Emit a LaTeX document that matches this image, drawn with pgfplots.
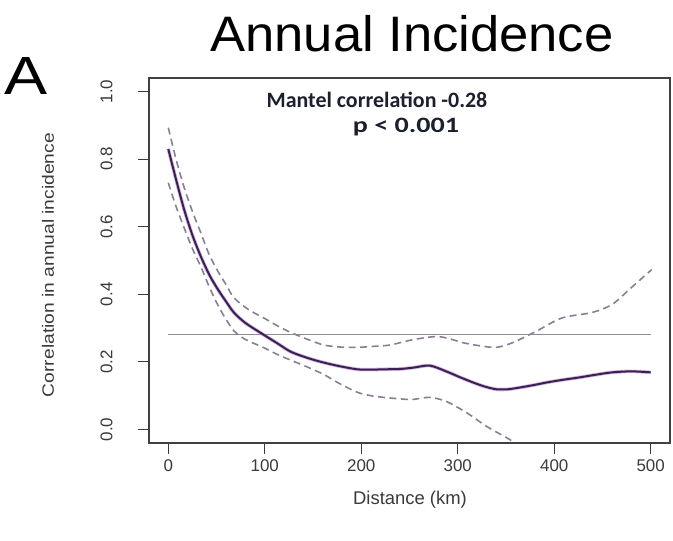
\documentclass[border=0pt]{standalone}
\usepackage{pgfplots}
\pgfplotsset{compat=1.18}
\usepackage{fontspec}
\setmainfont{Liberation Sans}
\newfontfamily\calibri{Carlito}

\definecolor{meanline}{HTML}{3E1F55}
\definecolor{meanhalo}{HTML}{B08CCB}
\definecolor{envline}{HTML}{8A7E94}
\definecolor{refline}{HTML}{8C8C8C}
\definecolor{ticktext}{HTML}{3A3A3A}
\definecolor{notetext}{HTML}{1C1F2E}

% correlogram: smoothed correlation and its envelope
\pgfplotstableread{
x y
0 0.83
8 0.74
16.5 0.65
25 0.575
34 0.51
43 0.455
51.5 0.414
60 0.378
68 0.346
80 0.315
99 0.28
113 0.255
127 0.23
144 0.212
161 0.198
178 0.187
196 0.178
210 0.177
223 0.178
240 0.179
254 0.183
271 0.189
288 0.172
302 0.155
316 0.139
328 0.127
340 0.119
352 0.119
364 0.124
378 0.131
392 0.139
409 0.147
426 0.154
443 0.162
460 0.169
480 0.172
500 0.169
}\meancurve

\pgfplotstableread{
x y
0 0.893
8 0.80
16 0.72
25 0.645
34 0.58
42 0.52
51 0.47
60 0.428
68 0.39
83 0.355
99 0.33
113 0.307
127 0.287
144 0.267
161 0.25
178 0.244
196 0.243
213 0.246
230 0.25
254 0.266
278 0.275
292 0.268
305 0.257
322 0.248
340 0.243
357 0.257
381 0.29
408 0.33
439 0.346
460 0.37
480 0.42
501 0.473
}\uppercurve

\pgfplotstableread{
x y
0 0.73
8 0.66
16 0.60
25 0.535
34 0.48
42 0.425
51 0.37
60 0.325
68 0.292
75 0.275
83 0.262
99 0.242
113 0.222
127 0.205
144 0.185
161 0.163
178 0.135
196 0.11
210 0.10
223 0.095
247 0.089
254 0.089
271 0.095
288 0.083
309 0.05
330 0.009
354 -0.03
360 -0.045
}\lowercurve

\begin{document}
\begin{tikzpicture}
\path[use as bounding box] (0bp,0bp) rectangle (673bp,541bp);
\begin{axis}[
  at={(149bp,98bp)}, anchor=south west,
  scale only axis, width=521bp, height=365bp,
  xmin=-20, xmax=520, ymin=-0.04, ymax=1.04,
  xtick={0,100,...,500}, ytick={0,0.2,...,1.0},
  xtick pos=left, ytick pos=left,
  tick align=outside, major tick length=11bp,
  tick style={ticktext, line width=1bp},
  axis line style={black!75, line width=1.3bp},
  /pgf/number format/assume math mode=true,
  ticklabel style={font=\fontsize{17}{17}\selectfont, text=ticktext},
  yticklabel style={rotate=90, anchor=south, yshift=22bp, /pgf/number format/.cd, fixed, fixed zerofill, precision=1},
  xticklabel style={yshift=-2bp, /pgf/number format/.cd, fixed, precision=0},
  clip=true,
]
\addplot[refline, line width=1bp] coordinates {(0,0.28) (500,0.28)};
\addplot[envline, line width=1.6bp, dash pattern=on 7bp off 4.5bp, smooth] table {\uppercurve};
\addplot[envline, line width=1.6bp, dash pattern=on 7bp off 4.5bp, smooth] table {\lowercurve};
\addplot[meanhalo, line width=3.6bp, opacity=0.6, smooth] table {\meancurve};
\addplot[meanline, line width=2bp, smooth] table {\meancurve};
\end{axis}

% titles and annotations
\node[font=\fontsize{50}{50}\selectfont, anchor=base] at (412bp,489bp) {\scalebox{1.055}[1]{Annual Incidence}};
\node[font=\fontsize{54}{54}\selectfont, anchor=base west, inner sep=0] at (4bp,446bp) {\scalebox{1.2}[1]{A}};
\node[font=\calibri\bfseries\fontsize{22}{22}\selectfont, text=notetext, anchor=base] at (377bp,433bp) {Mantel correlation -0.28};
\node[font=\calibri\bfseries\fontsize{22}{22}\selectfont, text=notetext, anchor=base] at (406bp,408bp) {\scalebox{1.28}[1]{p < 0.001}};
\node[font=\fontsize{16.5}{16.5}\selectfont, text=ticktext, rotate=90] at (48bp,276bp) {\scalebox{1.17}[1]{Correlation in annual incidence}};
\node[font=\fontsize{18.5}{18.5}\selectfont, text=ticktext] at (410bp,41bp) {Distance (km)};
\end{tikzpicture}
\end{document}
